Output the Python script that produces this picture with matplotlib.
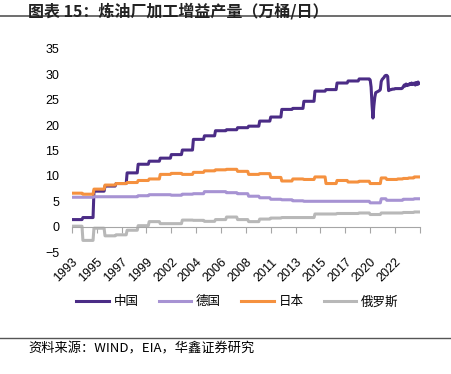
import numpy as np
import matplotlib.pyplot as plt

plt.rcParams['font.family'] = ['Liberation Sans', 'Noto Sans CJK SC', 'DejaVu Sans']

# annual values 1993-2019 (万桶/日)
years = list(range(1993, 2020))
china_annual = [1.4, 1.8, 7.0, 8.0, 8.5, 10.6, 12.3, 12.9, 13.5, 14.2, 15.1, 17.2, 17.9,
                18.9, 19.1, 19.5, 19.8, 20.8, 21.6, 23.1, 23.3, 24.7, 26.7, 27.0, 28.3,
                28.7, 29.1]
germany_annual = [5.8, 5.8, 5.9, 5.9, 5.9, 5.9, 6.1, 6.3, 6.3, 6.2, 6.4, 6.5, 6.9, 6.9,
                  6.7, 6.5, 6.0, 5.7, 5.4, 5.3, 5.1, 5.0, 5.0, 5.0, 5.0, 5.0, 5.0]
japan_annual = [6.6, 6.4, 7.4, 8.2, 8.5, 8.7, 9.1, 9.4, 10.3, 10.5, 10.3, 10.7, 11.0, 11.2,
                11.3, 10.9, 10.3, 10.45, 9.7, 9.0, 9.4, 9.3, 9.8, 8.5, 9.1, 8.8, 8.95]
russia_annual = [0.1, -2.7, -0.3, -1.8, -1.6, -0.7, 0.2, 1.0, 0.6, 0.6, 1.3, 1.25, 1.05,
                 1.4, 1.9, 1.4, 1.0, 1.5, 1.7, 1.8, 1.8, 1.8, 2.5, 2.5, 2.6, 2.6, 2.7]

# monthly China 2020-01 .. 2024-06
china_monthly = [28.9, 27.5, 24.0, 21.4, 23.8, 25.5, 26.4, 26.5, 26.6, 26.7, 26.8, 27.0,
                 28.6, 29.0, 29.2, 29.4, 29.7, 29.8, 29.8, 29.6, 26.8, 26.9, 27.0, 27.0,
                 27.1, 27.1, 27.1, 27.2, 27.2, 27.2, 27.2, 27.2, 27.2, 27.2, 27.2, 27.3,
                 27.6, 27.9, 27.7, 28.1, 27.8, 28.0, 27.9, 28.2, 28.0, 28.3, 28.0, 28.1,
                 28.3, 27.9, 28.4, 28.0, 28.5, 28.2]
# other countries after 2020: (month, value) change points
germany_recent = [("2020-01", 4.7), ("2021-01", 5.5), ("2021-07", 5.2), ("2022-01", 5.2),
                  ("2023-01", 5.4), ("2024-01", 5.5)]
japan_recent = [("2020-01", 8.5), ("2021-01", 9.6), ("2021-07", 9.3), ("2022-07", 9.4),
                ("2023-01", 9.5), ("2023-07", 9.6), ("2024-01", 9.8)]
russia_recent = [("2020-01", 2.4), ("2021-01", 2.7), ("2022-01", 2.7), ("2023-01", 2.8),
                 ("2024-01", 2.9)]

tick_labels = ['1993', '1995', '1997', '1999', '2002', '2004', '2006', '2008', '2011',
               '2013', '2015', '2017', '2020', '2022']

names = ['中国', '德国', '日本', '俄罗斯']
colors = ['#4B2C86', '#A793D3', '#F5913F', '#B8B8B8']

N = 378  # months Jan 1993 .. Jun 2024


def midx(s):
    y, m = s.split('-')
    return (int(y) - 1993) * 12 + int(m) - 1


def monthly(annual, recent):
    # annual figures hold for every month of the year, recent ones until the next change
    out = list(np.repeat(annual, 12))
    pts = [(midx(s), v) for s, v in recent]
    for i in range(len(out), N):
        val = out[-1]
        for k, v in pts:
            if k <= i:
                val = v
        out.append(val)
    return np.array(out)


china_recent = [(f"{2020 + i // 12}-{i % 12 + 1:02d}", v) for i, v in enumerate(china_monthly)]
series = [monthly(china_annual, china_recent), monthly(germany_annual, germany_recent),
          monthly(japan_annual, japan_recent), monthly(russia_annual, russia_recent)]
months = np.arange(N)

fig = plt.figure(figsize=(4.52, 3.74), dpi=100)
ax = fig.add_axes([0.159, 0.326, 0.77, 0.543])

for v, name, c in zip(series, names, colors):
    ax.plot(months, v, color=c, lw=2.2, label=name)

ax.set_xlim(0, N)
ax.set_ylim(-5, 35)
ax.set_yticks(np.arange(-5, 36, 5))
for s in ['top', 'right', 'left']:
    ax.spines[s].set_visible(False)
ax.spines['bottom'].set_position(('data', 0))
ax.spines['bottom'].set_color('#A6A6A6')
ax.tick_params(axis='y', length=0, labelsize=9, pad=9)
ticks = np.arange(0, N + 1, 27)
ax.set_xticks(ticks)
ax.tick_params(axis='x', direction='out', length=4, color='#A6A6A6', labelbottom=False)

sec = ax.secondary_xaxis('bottom')
sec.spines['bottom'].set_visible(False)
sec.set_xticks(ticks[:len(tick_labels)])
sec.set_xticklabels(tick_labels, rotation=45, ha='right', rotation_mode='anchor')
sec.tick_params(axis='x', length=0, labelsize=9, pad=3)

fig.legend(loc='center', bbox_to_anchor=(0.525, 0.193), ncol=4, frameon=False,
           handlelength=2.6, handletextpad=0.4, columnspacing=1.6,
           prop={'family': ['Noto Sans CJK SC'], 'size': 9})

fig.text(0.062, 0.97, '图表 15：炼油厂加工增益产量（万桶/日）', fontsize=11.5, fontweight='bold',
         va='center', ha='left', family=['Noto Sans CJK SC', 'DejaVu Sans'], color='#222222')
fig.add_artist(plt.Line2D([0, 1], [0.958, 0.958], color='#555555', lw=1.2))
fig.add_artist(plt.Line2D([0, 1], [0.096, 0.096], color='#555555', lw=1.0))
fig.text(0.062, 0.066, '资料来源：WIND，EIA，华鑫证券研究', fontsize=9.5, va='center', ha='left',
         family=['Noto Sans CJK SC', 'DejaVu Sans'])

fig.savefig('out.png', dpi=100)
